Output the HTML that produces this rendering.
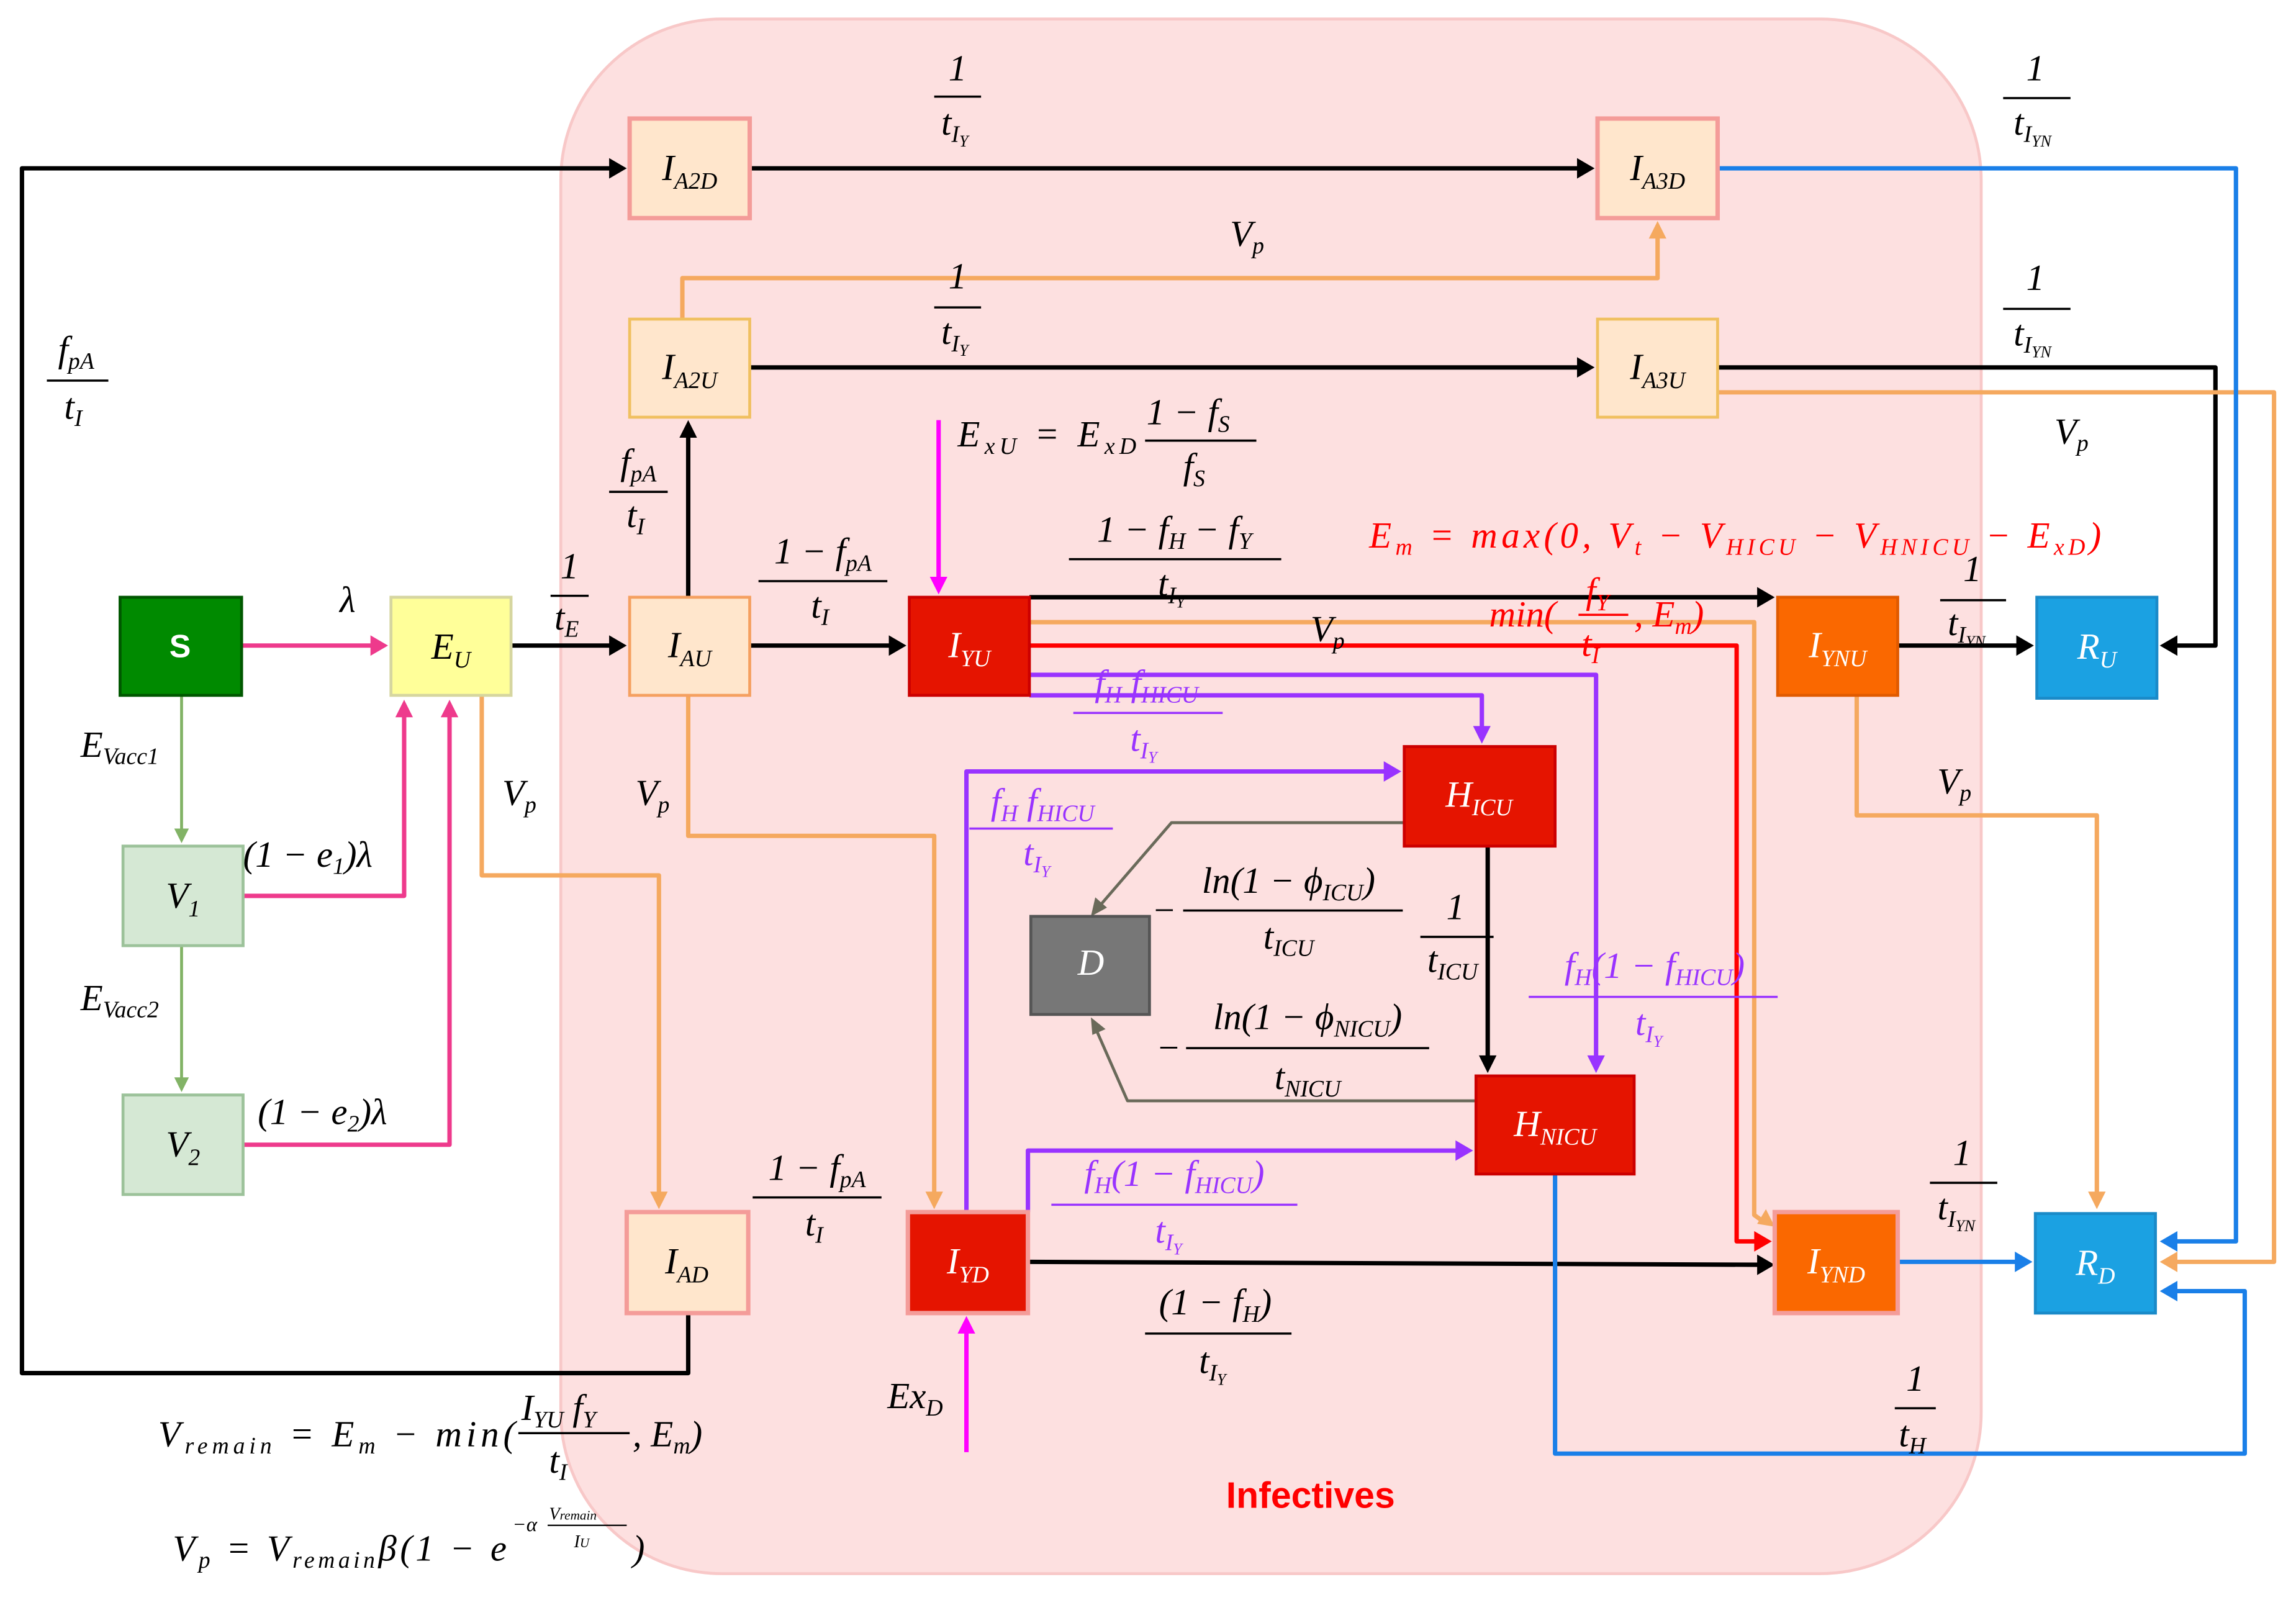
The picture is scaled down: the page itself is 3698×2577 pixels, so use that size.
<!DOCTYPE html>
<html><head><meta charset="utf-8"><style>
html,body{margin:0;padding:0;background:#fff;}
svg{display:block}
.m{font-family:"Liberation Serif",serif;font-style:italic;font-size:25px;}
.n{font-family:"Liberation Serif",serif;font-size:25px;}
.s{font-size:16px;}
</style></head><body>
<svg width="3698" height="2577" viewBox="0 0 1568 1093" preserveAspectRatio="none" xmlns="http://www.w3.org/2000/svg">
<rect x="383" y="13" width="970" height="1062" rx="110" fill="#fde0e0" stroke="#f8c8c8" stroke-width="2"/>
<g fill="none" stroke-width="3" stroke-linejoin="round">
<g stroke="#000">
<path d="M349,441H420"/><path d="M470,897V938H15V115H418"/><path d="M470,408V295"/>
<path d="M512,115H1081"/><path d="M512,251H1081"/><path d="M1173,251H1513V441H1485"/>
<path d="M512,441H611"/><path d="M703,408H1204"/><path d="M1016,578V725"/>
<path d="M1296,441H1381"/><path d="M702,862L1204,864"/>
</g>
<g stroke="#f5a95f"><path d="M329,475V598H450V818"/><path d="M466,218V190H1132V160"/><path d="M1173,268H1553V862H1483"/>
<path d="M470,475V571H638V818"/><path d="M703,425H1198V830L1205,835"/><path d="M1268,475V557H1432V818"/></g>
<g stroke="#ee3a8c"><path d="M165,441H257"/><path d="M166,612H276V486"/><path d="M166,782H307V486"/></g>
<g stroke="#82b366" stroke-width="2"><path d="M124,475V568"/><path d="M124,646V738"/></g>
<g stroke="#1a7fe8"><path d="M1173,115H1527V848H1483"/><path d="M1296,862H1380"/><path d="M1062,802V993H1533V882H1483"/></g>
<g stroke="#9933ff"><path d="M703,461H1090V725"/><path d="M703,475H1012V500"/><path d="M660,828V527H949"/><path d="M702,828V786H998"/></g>
<path d="M703,441H1186V848H1202" stroke="#f00"/>
<g stroke="#6a6a5a" stroke-width="2"><path d="M959,562H800L750,620"/><path d="M1008,752H770L748,702"/></g>
<g stroke="#ff00ff"><path d="M641,287V398"/><path d="M660,992V907"/></g>
</g>
<g>
<g fill="#000"><path d="M428,115l-12,-7v14z"/><path d="M428,441l-12,-7v14z"/><path d="M470,287l-6,12h12z"/><path d="M1089,115l-12,-7v14z"/><path d="M1089,251l-12,-7v14z"/><path d="M1475,441l12,-7v14z"/><path d="M619,441l-12,-7v14z"/><path d="M1212,408l-12,-7v14z"/><path d="M1016,733l-6,-12h12z"/><path d="M1389,441l-12,-7v14z"/><path d="M1212,864l-12,-7v14z"/></g>
<g fill="#f5a95f"><path d="M450,826l-6,-12h12z"/><path d="M1132,151l-6,12h12z"/><path d="M1475,862l12,-7v14z"/><path d="M638,826l-6,-12h12z"/><path d="M1212,838l-12,-2 6,-10z"/><path d="M1432,826l-6,-12h12z"/></g>
<g fill="#ee3a8c"><path d="M265,441l-12,-7v14z"/><path d="M276,478l-6,12h12z"/><path d="M307,478l-6,12h12z"/></g>
<g fill="#82b366"><path d="M124,576l-5,-10h10z"/><path d="M124,746l-5,-10h10z"/></g>
<g fill="#1a7fe8"><path d="M1475,848l12,-7v14z"/><path d="M1388,862l-12,-7v14z"/><path d="M1475,882l12,-7v14z"/></g>
<g fill="#9933ff"><path d="M1090,733l-6,-12h12z"/><path d="M1012,508l-6,-12h12z"/><path d="M957,527l-12,-7v14z"/><path d="M1006,786l-12,-7v14z"/></g>
<path d="M1210,848l-12,-7v14z" fill="#f00"/>
<g fill="#6a6a5a"><path d="M745,626l3,-13 8,7z"/><path d="M745,695l10,8 -9,4z"/></g>
<g fill="#ff00ff"><path d="M641,406l-6,-12h12z"/><path d="M660,899l-6,12h12z"/></g>
</g>
<g stroke-width="2">
<rect x="82" y="408" width="83" height="67" fill="#008a00" stroke="#005700"/>
<rect x="267" y="408" width="82" height="67" fill="#ffff99" stroke="#d6d6a0"/>
<rect x="84" y="578" width="82" height="68" fill="#d5e8d4" stroke="#9cc29a"/>
<rect x="84" y="748" width="82" height="68" fill="#d5e8d4" stroke="#9cc29a"/>
<rect x="430" y="81" width="82" height="68" fill="#ffe6cc" stroke="#f49c99" stroke-width="3"/>
<rect x="1091" y="81" width="82" height="68" fill="#ffe6cc" stroke="#f49c99" stroke-width="3"/>
<rect x="430" y="218" width="82" height="67" fill="#ffe6cc" stroke="#f0c060"/>
<rect x="1091" y="218" width="82" height="67" fill="#ffe6cc" stroke="#f0c060"/>
<rect x="430" y="408" width="82" height="67" fill="#ffe6cc" stroke="#f5a060"/>
<rect x="621" y="408" width="82" height="67" fill="#e51400" stroke="#c00"/>
<rect x="1214" y="408" width="82" height="67" fill="#fa6800" stroke="#e05a00"/>
<rect x="1391" y="408" width="82" height="69" fill="#1ba1e2" stroke="#1a8ac8"/>
<rect x="959" y="510" width="103" height="68" fill="#e51400" stroke="#c00"/>
<rect x="704" y="626" width="81" height="67" fill="#777" stroke="#555"/>
<rect x="1008" y="735" width="108" height="67" fill="#e51400" stroke="#c00"/>
<rect x="428" y="828" width="83" height="69" fill="#ffe6cc" stroke="#f49c99" stroke-width="3"/>
<rect x="620" y="828" width="82" height="69" fill="#e51400" stroke="#f49c99" stroke-width="3"/>
<rect x="1212" y="828" width="84" height="69" fill="#fa6800" stroke="#f49c99" stroke-width="3"/>
<rect x="1390" y="829" width="82" height="68" fill="#1ba1e2" stroke="#1a8ac8"/>
</g>
<g text-anchor="middle">
<text x="123" y="449" font-family="Liberation Sans,sans-serif" font-weight="bold" font-size="22" fill="#fff">S</text>
<text class="m" x="308" y="450">E<tspan class="s" dy="6">U</tspan></text>
<text class="m" x="125" y="620">V<tspan class="s" dy="6">1</tspan></text>
<text class="m" x="125" y="790">V<tspan class="s" dy="6">2</tspan></text>
<text class="m" x="471" y="123">I<tspan class="s" dy="6">A2D</tspan></text>
<text class="m" x="1132" y="123">I<tspan class="s" dy="6">A3D</tspan></text>
<text class="m" x="471" y="259">I<tspan class="s" dy="6">A2U</tspan></text>
<text class="m" x="1132" y="259">I<tspan class="s" dy="6">A3U</tspan></text>
<text class="m" x="471" y="449">I<tspan class="s" dy="6">AU</tspan></text>
<text class="m" x="662" y="449" fill="#fff">I<tspan class="s" dy="6">YU</tspan></text>
<text class="m" x="1255" y="449" fill="#fff">I<tspan class="s" dy="6">YNU</tspan></text>
<text class="m" x="1432" y="450" fill="#fff">R<tspan class="s" dy="6">U</tspan></text>
<text class="m" x="1010" y="551" fill="#fff">H<tspan class="s" dy="6">ICU</tspan></text>
<text class="m" x="745" y="666" fill="#fff">D</text>
<text class="m" x="1062" y="776" fill="#fff">H<tspan class="s" dy="6">NICU</tspan></text>
<text class="m" x="469" y="870">I<tspan class="s" dy="6">AD</tspan></text>
<text class="m" x="661" y="870" fill="#fff">I<tspan class="s" dy="6">YD</tspan></text>
<text class="m" x="1254" y="870" fill="#fff">I<tspan class="s" dy="6">YND</tspan></text>
<text class="m" x="1431" y="871" fill="#fff">R<tspan class="s" dy="6">D</tspan></text>
</g>
<g text-anchor="middle" class="m">
<g><text x="654" y="55" class="n">1</text><path d="M638,66H670" stroke="#000" stroke-width="1.5"/><text x="652" y="92">t<tspan class="s" dy="5">I</tspan><tspan font-size="11" dy="3">Y</tspan></text></g>
<g><text x="654" y="197" class="n">1</text><path d="M638,210H670" stroke="#000" stroke-width="1.5"/><text x="652" y="235">t<tspan class="s" dy="5">I</tspan><tspan font-size="11" dy="3">Y</tspan></text></g>
<g><text x="1390" y="55" class="n">1</text><path d="M1368,67H1414" stroke="#000" stroke-width="1.5"/><text x="1388" y="92">t<tspan class="s" dy="5">I</tspan><tspan font-size="11" dy="3">YN</tspan></text></g>
<g><text x="1390" y="198" class="n">1</text><path d="M1368,211H1414" stroke="#000" stroke-width="1.5"/><text x="1388" y="236">t<tspan class="s" dy="5">I</tspan><tspan font-size="11" dy="3">YN</tspan></text></g>
<g><text x="52" y="247">f<tspan class="s" dy="5">pA</tspan></text><path d="M32,260H74" stroke="#000" stroke-width="1.5"/><text x="50" y="286">t<tspan class="s" dy="5">I</tspan></text></g>
<g><text x="436" y="324">f<tspan class="s" dy="5">pA</tspan></text><path d="M416,336H456" stroke="#000" stroke-width="1.5"/><text x="434" y="360">t<tspan class="s" dy="5">I</tspan></text></g>
<g><text x="389" y="395" class="n">1</text><path d="M376,407H402" stroke="#000" stroke-width="1.5"/><text x="387" y="430">t<tspan class="s" dy="5">E</tspan></text></g>
<g><text x="562" y="385">1 − f<tspan class="s" dy="5">pA</tspan></text><path d="M518,397H606" stroke="#000" stroke-width="1.5"/><text x="560" y="422">t<tspan class="s" dy="5">I</tspan></text></g>
<g><text x="802" y="370">1 − f<tspan class="s" dy="5">H</tspan><tspan dy="-5"> − f</tspan><tspan class="s" dy="5">Y</tspan></text><path d="M730,382H875" stroke="#000" stroke-width="1.5"/><text x="800" y="407">t<tspan class="s" dy="5">I</tspan><tspan font-size="11" dy="3">Y</tspan></text></g>
<g><text x="1347" y="397" class="n">1</text><path d="M1325,410H1370" stroke="#000" stroke-width="1.5"/><text x="1343" y="434">t<tspan class="s" dy="5">I</tspan><tspan font-size="11" dy="3">YN</tspan></text></g>
<g fill="#9933ff"><text x="783" y="475">f<tspan class="s" dy="5">H</tspan><tspan dy="-5"> f</tspan><tspan class="s" dy="5">HICU</tspan></text><path d="M733,487H835" stroke="#9933ff" stroke-width="1.5"/><text x="781" y="513">t<tspan class="s" dy="5">I</tspan><tspan font-size="11" dy="3">Y</tspan></text></g>
<g fill="#9933ff"><text x="712" y="556">f<tspan class="s" dy="5">H</tspan><tspan dy="-5"> f</tspan><tspan class="s" dy="5">HICU</tspan></text><path d="M662,566H760" stroke="#9933ff" stroke-width="1.5"/><text x="708" y="591">t<tspan class="s" dy="5">I</tspan><tspan font-size="11" dy="3">Y</tspan></text></g>
<g><text x="880" y="610">ln(1 − ϕ<tspan class="s" dy="5">ICU</tspan><tspan dy="-5">)</tspan></text><path d="M808,622H958" stroke="#000" stroke-width="1.5"/><text x="880" y="648">t<tspan class="s" dy="5">ICU</tspan></text><text x="795" y="630" class="n">−</text></g>
<g><text x="994" y="628" class="n">1</text><path d="M970,640H1020" stroke="#000" stroke-width="1.5"/><text x="992" y="664">t<tspan class="s" dy="5">ICU</tspan></text></g>
<g fill="#9933ff"><text x="1130" y="668">f<tspan class="s" dy="5">H</tspan><tspan dy="-5">(1 − f</tspan><tspan class="s" dy="5">HICU</tspan><tspan dy="-5">)</tspan></text><path d="M1044,681H1214" stroke="#9933ff" stroke-width="1.5"/><text x="1126" y="707">t<tspan class="s" dy="5">I</tspan><tspan font-size="11" dy="3">Y</tspan></text></g>
<g><text x="893" y="703">ln(1 − ϕ<tspan class="s" dy="5">NICU</tspan><tspan dy="-5">)</tspan></text><path d="M810,716H976" stroke="#000" stroke-width="1.5"/><text x="893" y="744">t<tspan class="s" dy="5">NICU</tspan></text><text x="798" y="724" class="n">−</text></g>
<g><text x="558" y="806">1 − f<tspan class="s" dy="5">pA</tspan></text><path d="M514,818H602" stroke="#000" stroke-width="1.5"/><text x="556" y="844">t<tspan class="s" dy="5">I</tspan></text></g>
<g fill="#9933ff"><text x="802" y="810">f<tspan class="s" dy="5">H</tspan><tspan dy="-5">(1 − f</tspan><tspan class="s" dy="5">HICU</tspan><tspan dy="-5">)</tspan></text><path d="M718,823H886" stroke="#9933ff" stroke-width="1.5"/><text x="798" y="849">t<tspan class="s" dy="5">I</tspan><tspan font-size="11" dy="3">Y</tspan></text></g>
<g><text x="1340" y="796" class="n">1</text><path d="M1318,808H1364" stroke="#000" stroke-width="1.5"/><text x="1336" y="833">t<tspan class="s" dy="5">I</tspan><tspan font-size="11" dy="3">YN</tspan></text></g>
<g><text x="830" y="898">(1 − f<tspan class="s" dy="5">H</tspan><tspan dy="-5">)</tspan></text><path d="M782,911H882" stroke="#000" stroke-width="1.5"/><text x="828" y="938">t<tspan class="s" dy="5">I</tspan><tspan font-size="11" dy="3">Y</tspan></text></g>
<g><text x="1308" y="950" class="n">1</text><path d="M1294,962H1322" stroke="#000" stroke-width="1.5"/><text x="1306" y="988">t<tspan class="s" dy="5">H</tspan></text></g>
</g>
<g class="m">
<text x="232" y="418">λ</text>
<text x="840" y="168">V<tspan class="s" dy="5">p</tspan></text>
<text x="1403" y="303">V<tspan class="s" dy="5">p</tspan></text>
<text x="895" y="438">V<tspan class="s" dy="5">p</tspan></text>
<text x="343" y="550">V<tspan class="s" dy="5">p</tspan></text>
<text x="434" y="550">V<tspan class="s" dy="5">p</tspan></text>
<text x="1323" y="542">V<tspan class="s" dy="5">p</tspan></text>
<text x="55" y="517">E<tspan class="s" dy="5">Vacc1</tspan></text>
<text x="55" y="690">E<tspan class="s" dy="5">Vacc2</tspan></text>
<text x="166" y="592">(1 − e<tspan class="s" dy="5">1</tspan><tspan dy="-5">)λ</tspan></text>
<text x="176" y="768">(1 − e<tspan class="s" dy="5">2</tspan><tspan dy="-5">)λ</tspan></text>
<text x="606" y="962">Ex<tspan class="s" dy="5">D</tspan></text>
<text x="654" y="305" textLength="122" lengthAdjust="spacing">E<tspan class="s" dy="5">xU</tspan><tspan dy="-5"> = E</tspan><tspan class="s" dy="5">xD</tspan></text>
<text x="783" y="290">1 − f<tspan class="s" dy="5">S</tspan></text>
<path d="M782,301H858" stroke="#000" stroke-width="1.5"/>
<text x="808" y="327">f<tspan class="s" dy="5">S</tspan></text>
<text x="935" y="374" fill="#f00" textLength="500" lengthAdjust="spacing">E<tspan class="s" dy="5">m</tspan><tspan dy="-5"> = max(0, V</tspan><tspan class="s" dy="5">t</tspan><tspan dy="-5"> − V</tspan><tspan class="s" dy="5">HICU</tspan><tspan dy="-5"> − V</tspan><tspan class="s" dy="5">HNICU</tspan><tspan dy="-5"> − E</tspan><tspan class="s" dy="5">xD</tspan><tspan dy="-5">)</tspan></text>
<text x="1017" y="428" fill="#f00">min(</text><text x="1083" y="412" fill="#f00">f<tspan class="s" dy="5">Y</tspan></text><path d="M1078,420H1112" stroke="#f00" stroke-width="1.5"/><text x="1080" y="448" fill="#f00">t<tspan class="s" dy="5">I</tspan></text><text x="1116" y="428" fill="#f00">, E<tspan class="s" dy="5">m</tspan><tspan dy="-5">)</tspan></text>
<text x="108" y="988" textLength="244" lengthAdjust="spacing">V<tspan class="s" dy="5">remain</tspan><tspan dy="-5"> = E</tspan><tspan class="s" dy="5">m</tspan><tspan dy="-5"> − min(</tspan></text>
<text x="356" y="970">I<tspan class="s" dy="5">YU</tspan><tspan dy="-5"> f</tspan><tspan class="s" dy="5">Y</tspan></text>
<path d="M354,979H430" stroke="#000" stroke-width="1.5"/>
<text x="375" y="1006">t<tspan class="s" dy="5">I</tspan></text>
<text x="432" y="988">, E<tspan class="s" dy="5">m</tspan><tspan dy="-5">)</tspan></text>
<text x="118" y="1066" textLength="228" lengthAdjust="spacing">V<tspan class="s" dy="5">p</tspan><tspan dy="-5"> = V</tspan><tspan class="s" dy="5">remain</tspan><tspan dy="-5">β(1 − e</tspan></text>
<text x="350" y="1046" font-size="14">−α</text>
<text x="375" y="1038" font-size="12">V<tspan font-size="9">remain</tspan></text>
<path d="M374,1042H428" stroke="#000" stroke-width="1"/>
<text x="392" y="1057" font-size="12">I<tspan font-size="9">U</tspan></text>
<text x="432" y="1066">)</text>
</g>
<text x="895" y="1030" text-anchor="middle" font-family="Liberation Sans,sans-serif" font-weight="bold" font-size="25" fill="#f00">Infectives</text>
</svg>
</body></html>
